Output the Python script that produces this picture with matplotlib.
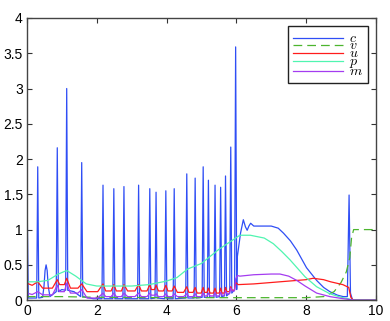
import matplotlib
matplotlib.use('Agg')
import matplotlib.pyplot as plt

# positions of the c spikes (u and m have cusps at the same places)
spike_x = [0.31, 0.87, 1.14, 1.57, 2.18, 2.49, 2.78, 3.20, 3.52, 3.70, 3.98,
           4.22, 4.58, 4.82, 5.05, 5.20, 5.39, 5.55, 5.69, 5.84, 5.98]

# c : spike tops and the value at their feet
c_peak = [1.89, 2.16, 3.00, 1.95, 1.63, 1.58, 1.61, 1.63, 1.58, 1.53, 1.55,
          1.58, 1.79, 1.73, 1.89, 1.70, 1.63, 1.60, 1.76, 2.17, 3.59]
c_foot = [0.03, 0.12, 0.14, 0.05, 0.02, 0.02, 0.02, 0.02, 0.02, 0.03, 0.02,
          0.02, 0.03, 0.03, 0.04, 0.04, 0.04, 0.05, 0.06, 0.10, 0.15]
# c away from the spikes
c_x_rest = [0.0, 0.04, 0.45, 0.49, 0.52, 0.55, 0.58, 0.61, 0.66, 1.00, 1.35, 1.90,
            6.03, 6.12, 6.20, 6.26, 6.31, 6.36, 6.41, 6.50, 6.60, 7.00, 7.20, 7.35, 7.55,
            7.73, 8.01, 8.30, 8.50, 8.68, 8.90, 9.06, 9.18, 9.23, 9.27, 9.33, 10.0]
c_y_rest = [1.63, 0.03, 0.04, 0.20, 0.42, 0.50, 0.42, 0.20, 0.05, 0.15, 0.12, 0.02,
            0.62, 0.95, 1.14, 1.04, 0.99, 1.05, 1.09, 1.05, 1.05, 1.05, 1.02, 0.95, 0.84,
            0.71, 0.46, 0.28, 0.18, 0.12, 0.07, 0.05, 0.05, 1.49, 0.10, 0.0, 0.0]

# u : cusps at the spikes, dips in between
u_peak = [0.26, 0.29, 0.31, 0.23, 0.23, 0.22, 0.22, 0.22, 0.22, 0.21, 0.21,
          0.20, 0.19, 0.18, 0.18, 0.17, 0.17, 0.17, 0.18, 0.19, 0.25]
u_trough = [0.17, 0.22, 0.17, 0.12, 0.13, 0.13, 0.13, 0.13, 0.15, 0.13,
            0.13, 0.11, 0.11, 0.10, 0.11, 0.10, 0.10, 0.10, 0.12, 0.14]
u_x_start = [0.0, 0.15]
u_y_start = [0.24, 0.21]
u_x_end = [6.05, 6.50, 7.00, 7.50, 8.00, 8.20, 8.50, 8.70, 9.05, 9.22, 9.28, 9.35, 10.0]
u_y_end = [0.22, 0.23, 0.25, 0.27, 0.29, 0.31, 0.29, 0.26, 0.22, 0.18, 0.04, 0.0, 0.0]

# m : same pattern as u
m_peak = [0.12, 0.21, 0.24, 0.15, 0.10, 0.10, 0.10, 0.10, 0.10, 0.09, 0.09,
          0.09, 0.09, 0.09, 0.10, 0.10, 0.10, 0.11, 0.13, 0.17, 0.30]
m_trough = [0.075, 0.12, 0.10, 0.03, 0.05, 0.05, 0.05, 0.05, 0.07, 0.05,
            0.05, 0.05, 0.05, 0.05, 0.06, 0.06, 0.06, 0.07, 0.09, 0.13]
m_x_start = [0.0, 0.15]
m_y_start = [0.10, 0.08]
m_x_end = [6.03, 6.10, 6.50, 7.00, 7.25, 7.50, 7.73, 7.97, 8.30, 8.68, 9.00, 9.30, 9.40, 10.0]
m_y_end = [0.35, 0.34, 0.36, 0.37, 0.37, 0.34, 0.28, 0.20, 0.10, 0.05, 0.025, 0.005, 0.0, 0.0]

# p and v are smooth
p_x = [0.0, 0.3, 0.6, 0.9, 1.14, 1.4, 1.7, 2.0, 2.5, 3.0, 3.5, 4.0, 4.3, 4.6, 5.0,
       5.5, 5.8, 6.1, 6.4, 6.8, 7.06, 7.3, 7.54, 7.97, 8.3, 8.68, 9.0, 9.2, 9.35, 10.0]
p_y = [0.26, 0.26, 0.28, 0.37, 0.42, 0.34, 0.23, 0.20, 0.20, 0.20, 0.22, 0.27, 0.32, 0.44, 0.52,
       0.72, 0.82, 0.92, 0.92, 0.88, 0.80, 0.69, 0.57, 0.33, 0.19, 0.09, 0.04, 0.02, 0.0, 0.0]

v_x = [0.0, 1.0, 2.0, 4.0, 6.0, 8.0, 8.5, 8.8, 9.0, 9.15, 9.25, 9.30, 9.36, 10.0]
v_y = [0.05, 0.05, 0.04, 0.035, 0.035, 0.035, 0.05, 0.12, 0.25, 0.40, 0.60, 0.88, 1.0, 1.0]

W = 0.03  # half width of a spike foot


def spiky(peaks, feet):
    xs, ys = [], []
    for x0, h, f in zip(spike_x, peaks, feet):
        xs += [x0 - W, x0, x0 + W]
        ys += [f, h, f]
    return xs, ys


def scalloped(peaks, troughs, xs0, ys0, xs1, ys1):
    xs, ys = list(xs0), list(ys0)
    for i, (x0, h) in enumerate(zip(spike_x, peaks)):
        xs.append(x0)
        ys.append(h)
        if i < len(troughs):
            gap = spike_x[i + 1] - x0
            xs += [x0 + 0.25 * gap, x0 + 0.75 * gap]
            ys += [troughs[i], troughs[i]]
    return xs + list(xs1), ys + list(ys1)


sx, sy = spiky(c_peak, c_foot)
pts = sorted(zip(sx + c_x_rest, sy + c_y_rest))
c_x = [a for a, b in pts]
c_y = [b for a, b in pts]

u_x, u_y = scalloped(u_peak, u_trough, u_x_start, u_y_start, u_x_end, u_y_end)
m_x, m_y = scalloped(m_peak, m_trough, m_x_start, m_y_start, m_x_end, m_y_end)

plt.rcParams['font.family'] = ['Liberation Sans', 'DejaVu Sans']
plt.rcParams['mathtext.fontset'] = 'cm'

fig = plt.figure(figsize=(3.9, 3.21), dpi=100)
ax = fig.add_axes([0.069, 0.065, 0.895, 0.879])

lw = 0.9
ax.plot(c_x, c_y, color='#2f4ef5', lw=lw, label='$c$')
ax.plot(v_x, v_y, color='#4cb52e', lw=lw, dashes=(7, 4), label='$v$')
ax.plot(u_x, u_y, color='#ff1c1c', lw=lw, label='$u$')
ax.plot(p_x, p_y, color='#50f5b0', lw=lw, label='$p$')
ax.plot(m_x, m_y, color='#a43cf0', lw=lw, label='$m$')

ax.set_xlim(0, 10)
ax.set_ylim(0, 4)
ax.set_xticks([0, 2, 4, 6, 8, 10])
ax.set_yticks([0, 0.5, 1, 1.5, 2, 2.5, 3, 3.5, 4])
ax.set_yticklabels(['0', '0.5', '1', '1.5', '2', '2.5', '3', '3.5', '4'])
ax.tick_params(direction='in', top=True, right=True, length=3.5, width=0.8,
               labelsize=10, color='#333333', pad=3)
for s in ax.spines.values():
    s.set_color('#444444')
    s.set_linewidth(1.0)

leg = ax.legend(loc='upper right', bbox_to_anchor=(0.977, 0.972), fontsize=10,
                handlelength=3.6, handleheight=0.4, labelspacing=-0.45,
                borderpad=0.35, handletextpad=0.45, fancybox=False, framealpha=1,
                edgecolor='#222222', borderaxespad=0)
leg.get_frame().set_linewidth(1.0)

fig.savefig('out.png', dpi=100)
